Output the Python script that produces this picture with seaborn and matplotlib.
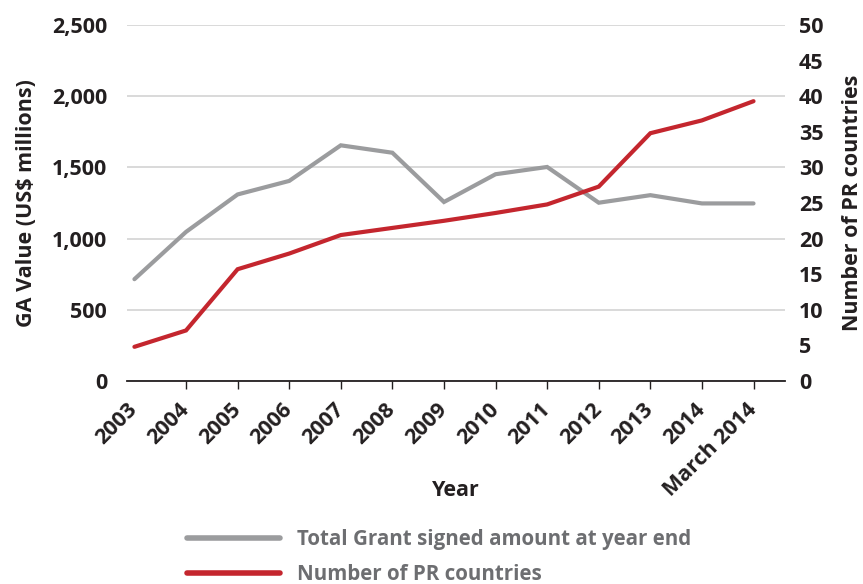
import matplotlib
matplotlib.use("Agg")
import matplotlib.pyplot as plt
from matplotlib.lines import Line2D
from matplotlib.ticker import FuncFormatter
import seaborn as sns
import pandas as pd

# Data
years = ["2003", "2004", "2005", "2006", "2007", "2008", "2009",
         "2010", "2011", "2012", "2013", "2014", "March 2014"]
grant_value = [715, 1047, 1310, 1405, 1655, 1603, 1257,
               1452, 1503, 1252, 1305, 1247, 1247]
pr_countries = [4.8, 7.1, 15.7, 17.9, 20.5, 21.5, 22.5,
                23.6, 24.8, 27.3, 34.8, 36.6, 39.3]
left_ticks = [0, 500, 1000, 1500, 2000, 2500]
right_ticks = [0, 5, 10, 15, 20, 25, 30, 35, 40, 45, 50]

GREY = "#9b9c9e"
RED = "#c4262e"
TEXT = "#231f20"
LEGEND_TEXT = "#6d6e71"
FS = 15.5

sns.set_theme(style="white")
plt.rcParams["font.family"] = ["Open Sans", "DejaVu Sans"]
plt.rcParams["font.weight"] = "bold"

df = pd.DataFrame({"pos": range(len(years)), "year": years,
                   "grant": grant_value, "pr": pr_countries})

fig = plt.figure(figsize=(8.63, 5.84), dpi=100)
ax = fig.add_axes([0.1468, 0.3476, 0.9096 - 0.1468, 0.9572 - 0.3476])
ax2 = ax.twinx()

sns.lineplot(data=df, x="pos", y="grant", ax=ax, color=GREY, linewidth=3,
             solid_capstyle="round", solid_joinstyle="miter", zorder=3)
sns.lineplot(data=df, x="pos", y="pr", ax=ax2, color=RED, linewidth=3,
             solid_capstyle="round", solid_joinstyle="miter", zorder=3)

ax.set_xlim(-0.15, 12.61)
ax.set_ylim(0, 2500)
ax2.set_ylim(0, 50)

# Gridlines on the left scale
ax.set_yticks(left_ticks)
ax.yaxis.set_major_formatter(FuncFormatter(lambda v, p: f"{int(v):,}"))
ax.grid(axis="y", color="#cfcfcf", linewidth=1.1)
ax.grid(axis="x", visible=False)
ax.set_axisbelow(True)
ax2.set_yticks(right_ticks)
ax2.grid(False)

for a in (ax, ax2):
    for s in ("left", "right", "top"):
        a.spines[s].set_visible(False)
ax.spines["bottom"].set_color(TEXT)
ax.spines["bottom"].set_linewidth(1.3)
ax2.spines["bottom"].set_visible(False)

ax.set_xticks(df["pos"])
ax.set_xticklabels(years, rotation=45, ha="right", va="center",
                   rotation_mode="anchor")
ax.tick_params(axis="x", length=6, width=1.0, color=TEXT, pad=12,
               labelsize=FS, labelcolor=TEXT, bottom=True)
ax.xaxis.get_major_ticks()[0].tick1line.set_visible(False)
ax.tick_params(axis="y", length=0, pad=14, labelsize=FS, labelcolor=TEXT)
ax2.tick_params(axis="y", length=0, pad=10, labelsize=FS, labelcolor=TEXT)

ax.set_xlabel("Year", fontsize=FS, fontweight="bold", color=TEXT)
ax.xaxis.set_label_coords(0.5, -0.277)
ax.set_ylabel("GA Value (US$ millions)", fontsize=FS, fontweight="bold",
              color=TEXT, labelpad=11)
ax2.set_ylabel("Number of PR countries", fontsize=FS, fontweight="bold",
               color=TEXT, labelpad=13)

handles = [
    Line2D([], [], color=GREY, linewidth=4, solid_capstyle="round"),
    Line2D([], [], color=RED, linewidth=4, solid_capstyle="round"),
]
labels = ["Total Grant signed amount at year end", "Number of PR countries"]
leg = fig.legend(handles, labels, loc="upper left", frameon=False,
                 fontsize=14.8, handlelength=4.5, handletextpad=0.85,
                 labelspacing=0.7, borderaxespad=0, borderpad=0)
leg.set_bbox_to_anchor((187 / 863, 1 - 529 / 584), transform=fig.transFigure)
for t in leg.get_texts():
    t.set_color(LEGEND_TEXT)
    t.set_fontweight("bold")

fig.savefig("out.png", dpi=100)
